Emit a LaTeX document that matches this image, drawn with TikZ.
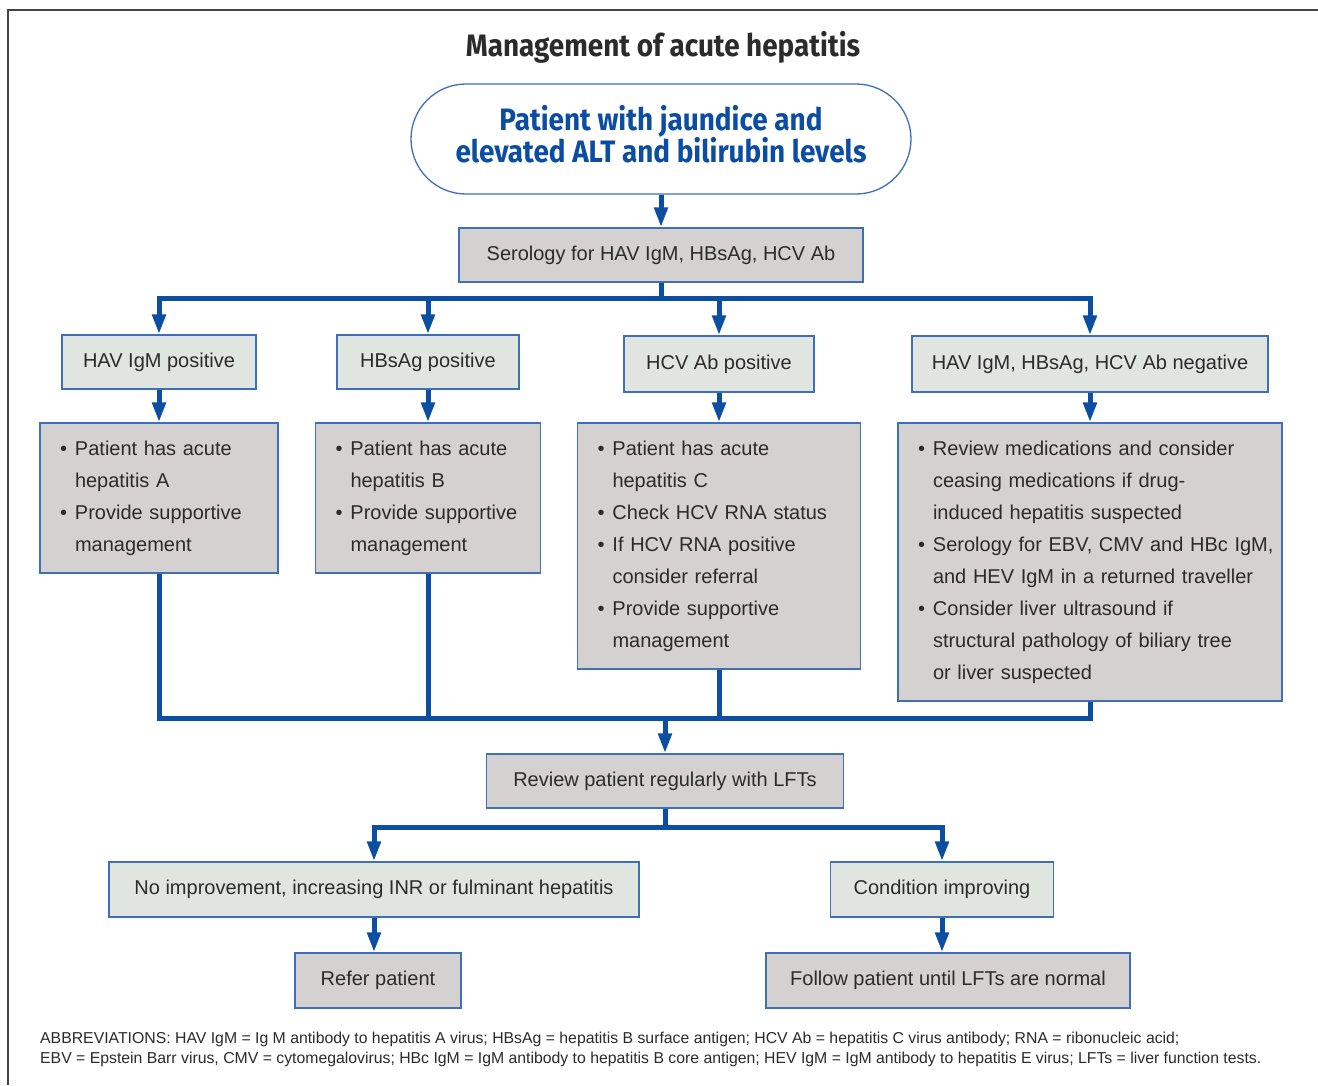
\documentclass[tikz,border=0pt]{standalone}
\usepackage{fontspec}
\usetikzlibrary{arrows.meta,calc}
\setmainfont{Liberation Sans}
\newfontfamily\condbold{Fira Sans}[FakeStretch=0.9]
\definecolor{arrowblue}{HTML}{0B4EA2}
\definecolor{patblue}{HTML}{0A4DA3}
\definecolor{boxblue}{HTML}{3D70B8}
\definecolor{hdrfill}{HTML}{E1E5E0}
\definecolor{cntfill}{HTML}{D6D1D1}
\definecolor{txt}{HTML}{2B2B2B}
\definecolor{framegray}{HTML}{444444}
\newcommand{\bul}{\makebox[15pt][l]{\textbullet}}
\newcommand{\ind}{\hspace*{15pt}}
\begin{document}
\begin{tikzpicture}[x=1pt,y=-1pt,
  hdr/.style={draw=boxblue, line width=1.3pt, fill=hdrfill, text=txt,
    font=\fontsize{20}{24}\selectfont, inner sep=0pt},
  cbox/.style={draw=boxblue, line width=1.3pt, fill=cntfill, text=txt,
    font=\fontsize{20}{24}\selectfont, inner sep=0pt},
  content/.style={draw=boxblue, line width=1.3pt, fill=cntfill, text=txt,
    font=\fontsize{20}{32}\selectfont, align=left, inner xsep=20pt, inner ysep=0pt},
  abbr/.style={anchor=base west, inner sep=0pt, text=txt, font=\fontsize{15.8}{18}\selectfont},
  conn/.style={draw=arrowblue, line width=5pt},
  arr/.style={conn, -{Triangle[length=20pt,width=13pt]}}]
\useasboundingbox (0,0) rectangle (1318,1085);
\draw[framegray, line width=2pt] (8,1085) -- (8,10) -- (1318,10);

\node[text=txt, font=\condbold\bfseries\fontsize{31}{34}\selectfont] (title) at (663,47) {Management of acute hepatitis};

\node[draw=boxblue, line width=1.3pt, fill=white, rounded corners=55pt,
  minimum width=500, minimum height=110, inner sep=0pt,
  text=patblue, font=\condbold\bfseries\fontsize{31}{32}\selectfont] (start) at (661,139)
  {\raisebox{7.5pt}{\begin{tabular}{@{}c@{}}Patient with jaundice and\\[-3pt]elevated ALT and bilirubin levels\end{tabular}}};

\node[cbox, minimum width=404, minimum height=54] (sero) at (661,255) {Serology for HAV IgM, HBsAg, HCV Ab};

\node[hdr, minimum width=194, minimum height=54] (hav) at (159,362) {HAV IgM positive};
\node[hdr, minimum width=182, minimum height=54] (hbs) at (428,362) {HBsAg positive};
\node[hdr, minimum width=190, minimum height=56] (hcv) at (719,364) {HCV Ab positive};
\node[hdr, minimum width=356, minimum height=56] (neg) at (1090,364) {HAV IgM, HBsAg, HCV Ab negative};

\node[content, text width=198, minimum height=150] (ca) at (159,498)
  {\bul Patient has acute\\\ind hepatitis A\\\bul Provide supportive\\\ind management};
\node[content, text width=185, minimum height=150] (cb) at (428,498)
  {\bul Patient has acute\\\ind hepatitis B\\\bul Provide supportive\\\ind management};
\node[content, text width=243, minimum height=246] (cc) at (719,546)
  {\bul Patient has acute\\\ind hepatitis C\\\bul Check HCV RNA status\\\bul If HCV RNA positive\\\ind consider referral\\\bul Provide supportive\\\ind management};
\node[content, text width=344, minimum height=278] (cn) at (1090,562)
  {\bul Review medications and consider\\\ind ceasing medications if drug-\\\ind induced hepatitis suspected\\\bul\mbox{Serology for EBV, CMV and HBc IgM,}\hspace{-20pt}\\\ind and HEV IgM in a returned traveller\\\bul Consider liver ultrasound if\\\ind structural pathology of biliary tree\\\ind or liver suspected};

\node[cbox, minimum width=357, minimum height=54] (rev) at (665,781) {Review patient regularly with LFTs};

\node[hdr, minimum width=530, minimum height=55] (noimp) at (374,889.5) {No improvement, increasing INR or fulminant hepatitis};
\node[hdr, minimum width=223, minimum height=55] (cimp) at (942,889.5) {Condition improving};

\node[cbox, minimum width=166, minimum height=55] (refer) at (378,980.5) {Refer patient};
\node[cbox, minimum width=364, minimum height=55] (follow) at (948,980.5) {Follow patient until LFTs are normal};

\node[abbr] (abbr1) at (40,1043)
  {ABBREVIATIONS: HAV IgM = Ig M antibody to hepatitis A virus; HBsAg = hepatitis B surface antigen; HCV Ab = hepatitis C virus antibody; RNA = ribonucleic acid;};
\node[abbr] (abbr2) at (40,1063)
  {EBV = Epstein Barr virus, CMV = cytomegalovirus; HBc IgM = IgM antibody to hepatitis B core antigen; HEV IgM = IgM antibody to hepatitis E virus; LFTs = liver function tests.};

% connectors
\draw[arr] (start.south) -- (start.south |- sero.north);
\coordinate (bus1) at (661,298);
\draw[conn] (sero.south) -- (bus1);
\draw[arr] (bus1) -| (hav.north);
\draw[arr] (bus1) -| (hbs.north);
\draw[arr] (bus1) -| (hcv.north);
\draw[arr] (bus1) -| (neg.north);

\draw[arr] (hav.south) -- (ca.north);
\draw[arr] (hbs.south) -- (cb.north);
\draw[arr] (hcv.south) -- (cc.north);
\draw[arr] (neg.south) -- (cn.north);

\coordinate (bus2) at (665,718);
\draw[conn] (ca.south) |- (bus2);
\draw[conn] (cn.south) |- (bus2);
\draw[conn] (cb.south) -- (cb.south |- bus2);
\draw[conn] (cc.south) -- (cc.south |- bus2);
\draw[arr] (bus2) -- (rev.north);

\coordinate (bus3) at (665,827);
\draw[conn] (rev.south) -- (bus3);
\draw[arr] (bus3) -| (noimp.north);
\draw[arr] (bus3) -| (cimp.north);

\draw[arr] (noimp.south) -- (noimp.south |- refer.north);
\draw[arr] (cimp.south) -- (cimp.south |- follow.north);
\end{tikzpicture}
\end{document}
